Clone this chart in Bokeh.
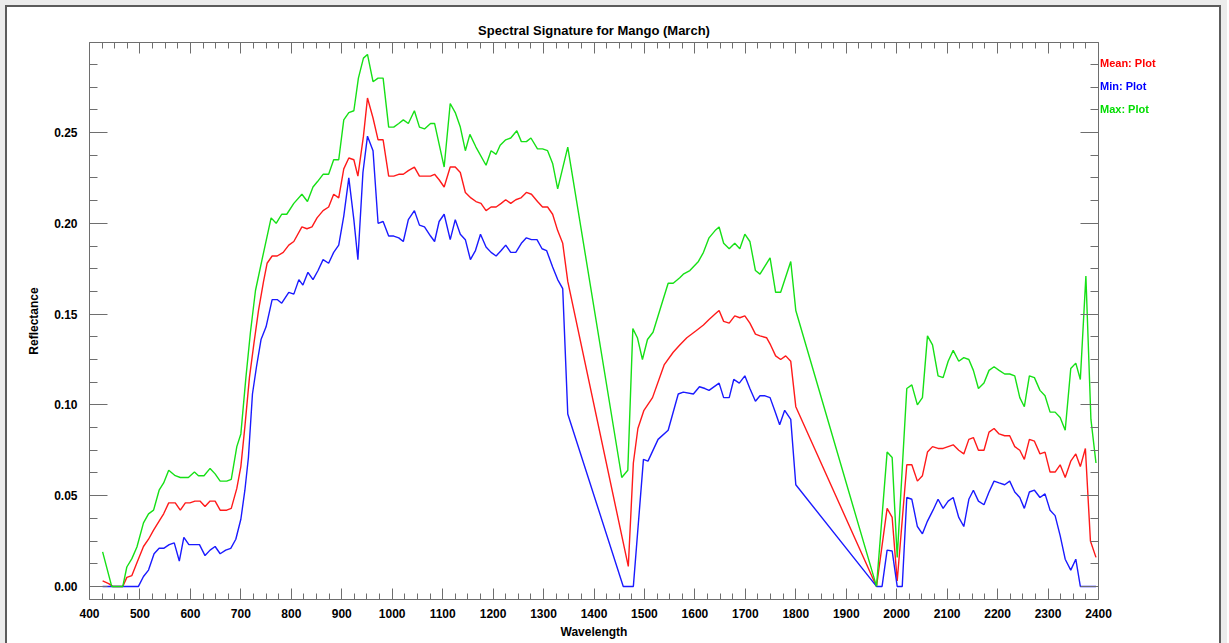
from bokeh.plotting import figure
from bokeh.models import (Range1d, LinearAxis, SingleIntervalTicker, Div,
                          CustomJSTickFormatter, NumeralTickFormatter)
from bokeh.layouts import row
from bokeh.embed import file_html
from bokeh.resources import INLINE

# ---------------- data ----------------
mean_wl = [426, 438, 446, 466, 474, 484, 494, 507, 517, 527, 538, 547, 557, 570, 580, 590, 599, 609, 619,
           629, 639, 649, 659, 672, 681, 692, 700, 708, 717, 726, 735, 745, 752, 762, 772, 784, 795, 805,
           821, 831, 841, 851, 863, 874, 884, 894, 904, 914, 924, 932, 943, 951, 962, 972, 982, 993, 1003,
           1013, 1022, 1032, 1044, 1054, 1064, 1076, 1084, 1093, 1103, 1115, 1125, 1135, 1145, 1156, 1166,
           1176, 1186, 1196, 1206, 1216, 1225, 1235, 1245, 1255, 1266, 1276, 1288, 1298, 1308, 1318, 1328,
           1338, 1348, 1468, 1478, 1487, 1499, 1516, 1539, 1557, 1570, 1584, 1603, 1617, 1628, 1640, 1648,
           1657, 1668, 1679, 1689, 1699, 1709, 1720, 1729, 1742, 1750, 1760, 1770, 1780, 1790, 1800, 1960,
           1981, 1991, 2001, 2020, 2030, 2041, 2051, 2061, 2071, 2082, 2092, 2102, 2112, 2123, 2133, 2143,
           2152, 2162, 2173, 2183, 2193, 2203, 2214, 2224, 2234, 2244, 2253, 2263, 2273, 2284, 2294, 2304,
           2314, 2324, 2334, 2345, 2355, 2364, 2374, 2384, 2395]
mean_refl = [0.003, 0.0015, 0.0, 0.0, 0.005, 0.006, 0.013, 0.022, 0.026, 0.031, 0.036, 0.040, 0.046, 0.046,
             0.042, 0.046, 0.046, 0.047, 0.047, 0.044, 0.047, 0.047, 0.042, 0.042, 0.043, 0.054, 0.066,
             0.088, 0.115, 0.134, 0.152, 0.168, 0.178, 0.182, 0.182, 0.184, 0.188, 0.190, 0.198, 0.197,
             0.198, 0.203, 0.207, 0.209, 0.216, 0.214, 0.230, 0.236, 0.235, 0.226, 0.248, 0.269, 0.258,
             0.246, 0.246, 0.226, 0.226, 0.227, 0.227, 0.229, 0.231, 0.226, 0.226, 0.226, 0.227, 0.224,
             0.220, 0.231, 0.231, 0.228, 0.217, 0.214, 0.212, 0.211, 0.207, 0.209, 0.209, 0.211, 0.213,
             0.211, 0.213, 0.214, 0.217, 0.216, 0.212, 0.209, 0.209, 0.205, 0.196, 0.189, 0.168, 0.011,
             0.068, 0.087, 0.097, 0.104, 0.122, 0.129, 0.133, 0.137, 0.141, 0.144, 0.147, 0.150, 0.152,
             0.146, 0.145, 0.149, 0.148, 0.149, 0.145, 0.139, 0.138, 0.137, 0.133, 0.127, 0.125, 0.127,
             0.124, 0.099, 0.0, 0.043, 0.038, 0.003, 0.067, 0.067, 0.058, 0.061, 0.074, 0.077, 0.076,
             0.076, 0.077, 0.078, 0.075, 0.073, 0.081, 0.082, 0.075, 0.075, 0.085, 0.087, 0.084, 0.083,
             0.083, 0.077, 0.075, 0.070, 0.081, 0.080, 0.073, 0.074, 0.063, 0.063, 0.067, 0.060, 0.069,
             0.073, 0.066, 0.076, 0.025, 0.016]

min_wl = [426, 497, 507, 517, 528, 538, 547, 558, 568, 578, 587, 597, 609, 618, 629, 639, 649, 659, 670,
          680, 690, 700, 708, 715, 723, 731, 740, 750, 762, 772, 781, 795, 805, 815, 823, 833, 843, 853,
          863, 874, 884, 894, 904, 914, 924, 932, 942, 951, 962, 972, 982, 993, 1003, 1013, 1022, 1032,
          1044, 1054, 1064, 1076, 1084, 1093, 1103, 1115, 1125, 1135, 1145, 1155, 1165, 1175, 1186, 1196,
          1206, 1216, 1225, 1235, 1245, 1256, 1266, 1276, 1287, 1297, 1306, 1318, 1328, 1338, 1348, 1458,
          1478, 1498, 1507, 1527, 1547, 1567, 1577, 1597, 1609, 1620, 1628, 1648, 1657, 1668, 1677, 1688,
          1699, 1709, 1720, 1729, 1739, 1749, 1758, 1768, 1778, 1790, 1800, 1960, 1971, 1981, 1991, 2001,
          2011, 2020, 2030, 2041, 2051, 2061, 2072, 2082, 2092, 2102, 2112, 2123, 2133, 2143, 2152, 2162,
          2173, 2183, 2193, 2203, 2214, 2224, 2234, 2244, 2253, 2263, 2273, 2284, 2294, 2304, 2314, 2324,
          2334, 2345, 2355, 2364, 2395]
min_refl = [0.0, 0.0, 0.0055, 0.009, 0.018, 0.021, 0.021, 0.023, 0.024, 0.014, 0.027, 0.023, 0.023, 0.023,
            0.017, 0.020, 0.022, 0.018, 0.020, 0.021, 0.026, 0.037, 0.053, 0.071, 0.106, 0.121, 0.136,
            0.143, 0.158, 0.158, 0.156, 0.162, 0.161, 0.169, 0.166, 0.173, 0.169, 0.174, 0.180, 0.178,
            0.184, 0.188, 0.204, 0.225, 0.202, 0.180, 0.228, 0.248, 0.240, 0.200, 0.201, 0.193, 0.193,
            0.192, 0.190, 0.202, 0.207, 0.199, 0.198, 0.193, 0.190, 0.201, 0.205, 0.191, 0.202, 0.194,
            0.191, 0.180, 0.185, 0.194, 0.187, 0.184, 0.182, 0.185, 0.188, 0.184, 0.184, 0.189, 0.192,
            0.191, 0.191, 0.186, 0.185, 0.176, 0.169, 0.164, 0.095, 0.0, 0.0, 0.070, 0.069, 0.081, 0.086,
            0.106, 0.107, 0.106, 0.110, 0.109, 0.108, 0.112, 0.104, 0.104, 0.114, 0.112, 0.116, 0.109,
            0.102, 0.105, 0.105, 0.104, 0.097, 0.089, 0.097, 0.092, 0.056, 0.0, 0.0, 0.020, 0.0195, 0.0,
            0.0, 0.049, 0.048, 0.033, 0.029, 0.036, 0.042, 0.048, 0.043, 0.047, 0.049, 0.038, 0.033, 0.048,
            0.053, 0.047, 0.045, 0.052, 0.058, 0.057, 0.056, 0.058, 0.052, 0.049, 0.043, 0.052, 0.053,
            0.049, 0.051, 0.042, 0.039, 0.028, 0.015, 0.009, 0.015, 0.0, 0.0]

max_wl = [426, 444, 466, 474, 484, 494, 507, 517, 527, 538, 547, 557, 570, 580, 596, 608, 616, 627, 639,
          649, 659, 672, 681, 692, 700, 710, 719, 729, 742, 760, 770, 781, 791, 805, 821, 832, 843, 852,
          863, 874, 884, 894, 904, 914, 924, 933, 943, 951, 962, 972, 982, 993, 1003, 1013, 1022, 1032,
          1044, 1054, 1064, 1076, 1084, 1103, 1115, 1125, 1135, 1145, 1154, 1166, 1186, 1196, 1206, 1214,
          1225, 1235, 1247, 1256, 1266, 1275, 1288, 1298, 1308, 1318, 1328, 1348, 1455, 1467, 1477, 1486,
          1496, 1506, 1517, 1537, 1547, 1557, 1570, 1577, 1590, 1607, 1617, 1628, 1640, 1648, 1657, 1668,
          1679, 1689, 1699, 1709, 1720, 1729, 1749, 1760, 1770, 1790, 1800, 1960, 1981, 1991, 2001, 2020,
          2030, 2041, 2051, 2061, 2071, 2082, 2092, 2102, 2112, 2123, 2133, 2143, 2152, 2162, 2173, 2183,
          2193, 2203, 2214, 2224, 2234, 2244, 2253, 2263, 2273, 2284, 2294, 2304, 2314, 2324, 2334, 2345,
          2355, 2364, 2375, 2385, 2395]
max_refl = [0.019, 0.0, 0.0, 0.0107, 0.0153, 0.0217, 0.035, 0.040, 0.042, 0.053, 0.057, 0.064, 0.061,
            0.060, 0.060, 0.063, 0.061, 0.061, 0.065, 0.062, 0.058, 0.058, 0.059, 0.077, 0.084, 0.115,
            0.140, 0.163, 0.180, 0.203, 0.200, 0.205, 0.205, 0.211, 0.216, 0.212, 0.220, 0.223, 0.227,
            0.227, 0.235, 0.235, 0.257, 0.261, 0.262, 0.280, 0.291, 0.293, 0.278, 0.280, 0.280, 0.253,
            0.253, 0.255, 0.257, 0.255, 0.262, 0.253, 0.252, 0.255, 0.255, 0.231, 0.266, 0.261, 0.253,
            0.240, 0.249, 0.242, 0.232, 0.240, 0.238, 0.243, 0.246, 0.247, 0.251, 0.245, 0.245, 0.247,
            0.241, 0.241, 0.240, 0.233, 0.219, 0.242, 0.060, 0.064, 0.142, 0.137, 0.125, 0.136, 0.140,
            0.158, 0.167, 0.167, 0.170, 0.172, 0.174, 0.179, 0.184, 0.192, 0.196, 0.198, 0.189, 0.186,
            0.189, 0.186, 0.194, 0.190, 0.174, 0.172, 0.181, 0.162, 0.162, 0.179, 0.152, 0.0, 0.074,
            0.071, 0.016, 0.109, 0.111, 0.100, 0.104, 0.138, 0.133, 0.116, 0.115, 0.124, 0.130, 0.124,
            0.126, 0.125, 0.119, 0.109, 0.112, 0.119, 0.121, 0.119, 0.117, 0.117, 0.116, 0.104, 0.099,
            0.116, 0.115, 0.108, 0.105, 0.096, 0.096, 0.093, 0.086, 0.120, 0.123, 0.114, 0.171, 0.092,
            0.068]

title_text = "Spectral Signature for Mango (March)"
x_label = "Wavelength"
y_label = "Reflectance"
legend_labels = ["Mean: Plot", "Min: Plot", "Max: Plot"]

# ---------------- styling ----------------
FONT = "Liberation Sans"
RED, BLUE, GREEN = "#ff1a1a", "#1a1aff", "#16e016"
LEGEND_COLORS = ["#ff0000", "#0000ff", "#00dd00"]
AXIS_COL = "#6e6e6e"

p = figure(frame_width=1009, frame_height=557,
           x_range=Range1d(400, 2400), y_range=Range1d(-0.0072, 0.2996),
           output_backend="svg", toolbar_location=None,
           min_border_left=89, min_border_right=20, min_border_top=42, min_border_bottom=30,
           x_axis_type=None, y_axis_type=None)
p.background_fill_color = "white"
p.border_fill_color = "white"
p.outline_line_color = None
p.xgrid.visible = False
p.ygrid.visible = False

p.title.text = title_text
p.title.align = "center"
p.title.text_font = FONT
p.title.text_font_size = "13px"
p.title.text_font_style = "bold"
p.title.text_color = "black"
p.title.standoff = 9

blank = CustomJSTickFormatter(code="return ''")


def style_axis(ax, is_x, labels):
    ax.axis_line_color = AXIS_COL
    ax.major_tick_line_color = AXIS_COL
    ax.minor_tick_line_color = AXIS_COL
    ax.major_tick_out = 0
    ax.minor_tick_out = 0
    ax.major_tick_in = 11 if is_x else 18
    ax.minor_tick_in = 6 if is_x else 8
    ax.major_label_text_font = FONT
    ax.major_label_text_font_size = "12px"
    ax.major_label_text_font_style = "bold"
    ax.major_label_text_color = "black"
    ax.axis_label_text_font = FONT
    ax.axis_label_text_font_size = "12px"
    ax.axis_label_text_font_style = "bold"
    ax.axis_label_text_color = "black"
    if not labels:
        ax.formatter = blank


xb = LinearAxis(ticker=SingleIntervalTicker(interval=100, num_minor_ticks=4), axis_label=x_label)
style_axis(xb, True, True)
xb.major_label_standoff = 9
xb.axis_label_standoff = 4
p.add_layout(xb, "below")

xt = LinearAxis(ticker=SingleIntervalTicker(interval=100, num_minor_ticks=4))
style_axis(xt, True, False)
p.add_layout(xt, "above")

yl = LinearAxis(ticker=SingleIntervalTicker(interval=0.05, num_minor_ticks=4), axis_label=y_label,
                formatter=NumeralTickFormatter(format="0.00"))
style_axis(yl, False, True)
yl.major_label_standoff = 12
yl.axis_label_standoff = 10
p.add_layout(yl, "left")

yr = LinearAxis(ticker=SingleIntervalTicker(interval=0.05, num_minor_ticks=4))
style_axis(yr, False, False)
p.add_layout(yr, "right")

p.line(mean_wl, mean_refl, line_color=RED, line_width=1.4)
p.line(min_wl, min_refl, line_color=BLUE, line_width=1.4)
p.line(max_wl, max_refl, line_color=GREEN, line_width=1.4)

# legend text to the right of the plot box + the window frame of the original screenshot
spans = "".join(
    f'<span style="position:fixed;left:1100px;top:{56 + 23 * i}px;font-family:\'{FONT}\';'
    f'font-size:11px;font-weight:bold;line-height:14px;color:{c};white-space:nowrap;">{t}</span>'
    for i, (t, c) in enumerate(zip(legend_labels, LEGEND_COLORS))
)
frame = ('<div style="position:fixed;left:5px;top:5px;width:1216px;height:700px;'
         'border:2px solid #5c5c5c;box-shadow:0 0 0 6px #ececec;pointer-events:none;"></div>')
legend_div = Div(text=frame + spans, width=10, height=10, margin=(0, 0, 0, 0))

layout = row(p, legend_div)
open("out.html", "w").write(file_html(layout, INLINE))
